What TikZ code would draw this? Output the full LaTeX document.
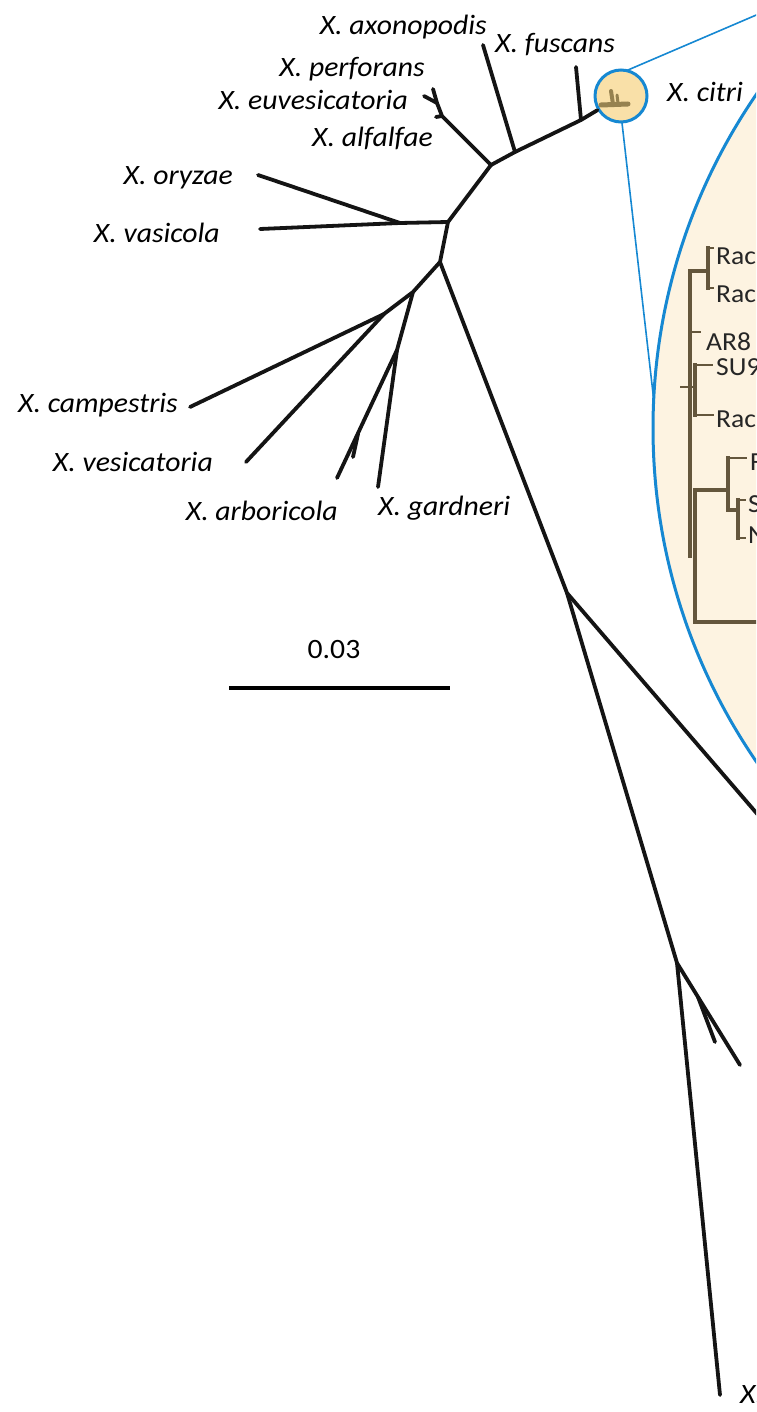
\documentclass[tikz,border=0pt]{standalone}
\usepackage{fontspec}
\setmainfont{Carlito}[FakeStretch=1.06]
\definecolor{zoomblue}{RGB}{22,136,210}
\definecolor{lensfill}{RGB}{249,224,168}
\definecolor{panelfill}{RGB}{253,243,225}
\definecolor{cladebrown}{RGB}{100,86,60}
\definecolor{iconolive}{RGB}{150,130,80}
\begin{document}
\begin{tikzpicture}[x=1pt,y=-1pt,
  branch/.style={line width=3.8pt, line cap=round, line join=round, black!92},
  zoomline/.style={line width=1.6pt, zoomblue},
  cladebar/.style={line width=3.2pt, cladebrown, line cap=rect},
  cladetick/.style={line width=1.9pt, cladebrown},
  icon/.style={line width=3.5pt, iconolive, line cap=round},
  tiplabel/.style={font=\fontsize{28}{30}\selectfont\itshape, inner sep=0pt},
  strain/.style={font=\fontsize{26}{28}\selectfont, inner sep=0pt, text=black!85}]
\useasboundingbox (0,0) rectangle (756,1412);
\clip (0,0) rectangle (756,1412);

% enlarged panel of the X. citri clade
\node[circle, minimum size=1180pt, inner sep=0pt, draw=zoomblue, fill=panelfill, line width=3pt] (panel) at (1243,428) {};

% magnifier lens and its connectors
\node[circle, minimum size=52pt, inner sep=0pt] (lensref) at (621,96) {};
\coordinate (topExit) at (775,7);
\coordinate (panelTouch) at (654,402);
\draw[zoomline] (lensref.77) -- (topExit);
\draw[zoomline] (lensref.272) -- (panelTouch);
\node[circle, minimum size=52pt, inner sep=0pt, draw=zoomblue, fill=lensfill, line width=3pt] (lens) at (621,96) {};
\draw[icon, line width=5pt] (601,105) -- (628,104);
\draw[icon, line width=4pt] (611,91) -- (613,104);
\draw[icon, line width=3pt] (617,95) -- (618,103);

% tree nodes and tips
\coordinate (tAxo) at (483,45);
\coordinate (tFus) at (576,67);
\coordinate (nF) at (581,120);
\coordinate (nA1) at (515,152);
\coordinate (nA2) at (491,165);
\coordinate (nP0) at (442,116);
\coordinate (nP1) at (437,103);
\coordinate (tPer) at (433,89);
\coordinate (tEuv) at (424,96);
\coordinate (tAlf) at (436,117);
\coordinate (nV) at (448,222);
\coordinate (nOV) at (400,223);
\coordinate (tOry) at (258,175);
\coordinate (tVas) at (260,229);
\coordinate (nC) at (440,262);
\coordinate (nD) at (413,292);
\coordinate (nE) at (384,314);
\coordinate (tCam) at (190,407);
\coordinate (tVes) at (246,462);
\coordinate (nG) at (397,350);
\coordinate (tGar) at (378,487);
\coordinate (tArb) at (337,478);
\coordinate (nArbS) at (358,434);
\coordinate (tArbS) at (353,457);
\coordinate (nL) at (567,593);
\coordinate (tR) at (790,852);
\coordinate (nM) at (677,963);
\coordinate (tBot) at (720,1395);
\coordinate (nN) at (698,997);
\coordinate (tN1) at (740,1065);
\coordinate (tN2) at (715,1042);

% branches
\draw[branch] (nA2) -- (nA1) -- (nF);
\draw[branch] (nF) -- (lens);
\draw[branch] (nA1) -- (tAxo);
\draw[branch] (nF) -- (tFus);
\draw[branch] (nA2) -- (nP0) -- (nP1) -- (tPer);
\draw[branch] (nP1) -- (tEuv);
\draw[branch] (nP0) -- (tAlf);
\draw[branch] (nA2) -- (nV) -- (nOV) -- (tVas);
\draw[branch] (nOV) -- (tOry);
\draw[branch] (nV) -- (nC) -- (nD) -- (nE) -- (tCam);
\draw[branch] (nE) -- (tVes);
\draw[branch] (nD) -- (nG) -- (tGar);
\draw[branch] (nG) -- (tArb);
\draw[branch] (nArbS) -- (tArbS);
\draw[branch] (nC) -- (nL) -- (tR);
\draw[branch] (nL) -- (nM) -- (tBot);
\draw[branch] (nM) -- (nN) -- (tN1);
\draw[branch] (nN) -- (tN2);

% species labels
\node[tiplabel, anchor=base east] (axo) at (487,35) {X. axonopodis};
\node[tiplabel, anchor=base west] (fus) at (495,53) {X. fuscans};
\node[tiplabel, anchor=base east] (per) at (425,77) {X. perforans};
\node[tiplabel, anchor=base east] (euv) at (408,110) {X. euvesicatoria};
\node[tiplabel, anchor=base east] (alf) at (433,147) {X. alfalfae};
\node[tiplabel, anchor=base west] (cit) at (667,102) {X. citri};
\node[tiplabel, anchor=base east] (ory) at (233,185) {X. oryzae};
\node[tiplabel, anchor=base east] (vas) at (220,243) {X. vasicola};
\node[tiplabel, anchor=base east] (cam) at (178,412) {X. campestris};
\node[tiplabel, anchor=base east] (ves) at (213,471) {X. vesicatoria};
\node[tiplabel, anchor=base east] (arb) at (338,520) {X. arboricola};
\node[tiplabel, anchor=base west] (gar) at (378,515) {X. gardneri};
\node[tiplabel, anchor=base west] (xbot) at (740,1403) {X.};

% scale bar
\node[font=\fontsize{28}{30}\selectfont, inner sep=0pt, anchor=base] (scl) at (334,658) {0.03};
\coordinate (barL) at (229,688);
\coordinate (barR) at (450,688);
\draw[line width=3.5pt] (barL) -- (barR);

% enlarged clade
\draw[cladebar] (690,271) -- (690,556);
\draw[cladebar] (690,271) -- (708,271);
\draw[cladebar] (708,248) -- (708,288);
\draw[cladetick] (708,248) -- (714,248);
\draw[cladetick] (708,288) -- (714,288);
\draw[cladetick] (690,332) -- (701,332);
\draw[cladebar] (695,365) -- (695,415);
\draw[cladetick] (695,365) -- (713,365);
\draw[cladetick] (695,415) -- (714,415);
\draw[cladetick] (680,387) -- (695,387);
\draw[cladebar] (695,490) -- (695,622) -- (760,622);
\draw[cladebar] (695,490) -- (728,490);
\draw[cladebar] (728,458) -- (728,510) -- (738,510);
\draw[cladetick] (728,458) -- (747,458);
\draw[cladebar] (738,500) -- (738,538);
\draw[cladetick] (738,500) -- (746,500);
\draw[cladetick] (738,538) -- (746,538);

\node[strain, anchor=base west] (r1) at (716,265) {Rac};
\node[strain, anchor=base west] (r2) at (716,302) {Rac};
\node[strain, anchor=base west] (ar) at (706,350) {AR8};
\node[strain, anchor=base west] (su) at (716,375) {SU9};
\node[strain, anchor=base west] (r3) at (716,427) {Rac};
\node[strain, anchor=base west] (f1) at (750,470) {F};
\node[strain, anchor=base west] (s1) at (748,512) {S};
\node[strain, anchor=base west] (n1) at (748,543) {N};
\end{tikzpicture}
\end{document}
